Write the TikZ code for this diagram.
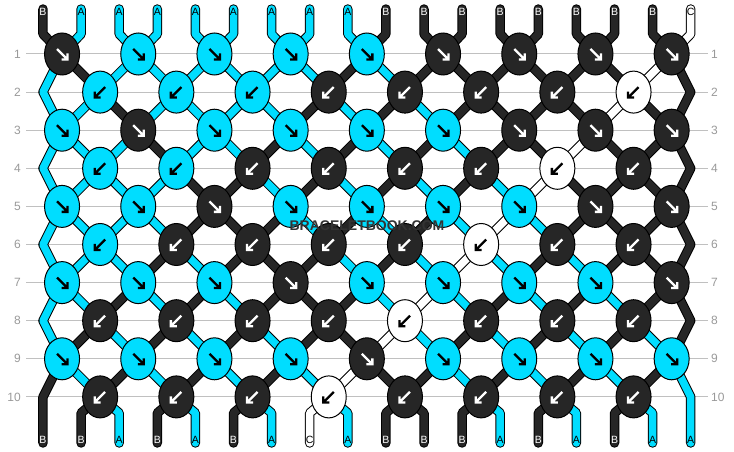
\documentclass[tikz,border=0pt]{standalone}
\usepackage{fontspec}
\setmainfont{Liberation Sans}
\usetikzlibrary{shapes.geometric}
\definecolor{colA}{HTML}{00DDFF}
\definecolor{colB}{HTML}{262626}
\definecolor{colC}{HTML}{FFFFFF}
\colorlet{arrA}{black}
\colorlet{arrB}{white}
\colorlet{arrC}{black}
\definecolor{rowgray}{HTML}{C0C0C0}
\definecolor{labelgray}{HTML}{999999}
\definecolor{wmgray}{HTML}{333333}
\pgfdeclarelayer{grid}
\pgfdeclarelayer{strands}
\pgfsetlayers{grid,strands,main}
\tikzset{
  knot/.style={ellipse, draw=black, line width=1pt, minimum width=35pt, minimum height=42pt, inner sep=0pt},
  strand/.style={draw=black, line width=1pt, double distance=7.5pt, line cap=round, line join=round},
  knotarrow/.style={line width=2.3pt, line cap=butt, line join=miter},
  rowline/.style={draw=rowgray, line width=1pt},
  rowlabel/.style={text=labelgray, font=\fontsize{12}{14}\selectfont, inner sep=0pt},
  endlabel/.style={font=\fontsize{10.5}{12}\selectfont, inner sep=0pt},
  watermark/.style={font=\bfseries\fontsize{14}{16}\selectfont, inner sep=0pt},
  pics/fwd/.style={code={\draw[knotarrow] (-5pt,5pt) -- (5.5pt,-5.5pt) (5.5pt,0.5pt) -- (5.5pt,-5.5pt) -- (-0.5pt,-5.5pt);}},
  pics/bwd/.style={code={\draw[knotarrow] (5pt,5pt) -- (-5.5pt,-5.5pt) (-5.5pt,0.5pt) -- (-5.5pt,-5.5pt) -- (0.5pt,-5.5pt);}},
}
\begin{document}
\begin{tikzpicture}[x=38.1pt, y=-38.1pt]
    \useasboundingbox (-1.1286,-1.4173) rectangle (18.1365,10.4462);

    % row numbers and guide lines
    \begin{pgfonlayer}{grid}
    \foreach \row in {1,...,10} {
        \node[rowlabel, anchor=east] (ll\row) at (-0.577,\row-1) {\row};
        \node[rowlabel, anchor=west] (rl\row) at (17.533,\row-1) {\row};
        \draw[rowline] ([xshift=5pt]ll\row.east) -- ([xshift=-3pt]rl\row.west);
    }
    \end{pgfonlayer}

    % string ends
    \foreach \lb [count=\sn] in {B,A,A,A,A,A,A,A,A,B,B,B,B,B,B,B,B,C}
        \node[endlabel, text=arr\lb] (top\sn) at (\sn-1,-1.102) {\lb};
    \foreach \lb [count=\sn] in {B,B,A,B,A,B,A,C,A,B,B,B,A,B,A,B,A,A}
        \node[endlabel, text=arr\lb] (bot\sn) at (\sn-1,10.131) {\lb};

    % knots
    \foreach \row/\cols in {1/{B,A,A,A,A,B,B,B,B}, 2/{A,A,A,B,B,B,B,C},
                            3/{A,B,A,A,A,A,B,B,B}, 4/{A,A,B,B,B,B,C,B},
                            5/{A,A,B,A,A,A,A,B,B}, 6/{A,B,B,B,B,C,B,B},
                            7/{A,A,A,B,A,A,A,A,B}, 8/{B,B,B,B,C,B,B,B},
                            9/{A,A,A,A,B,A,A,A,A}, 10/{B,B,B,C,B,B,B,B}} {
        \foreach \col [count=\kk] in \cols {
            \pgfmathsetmacro\kx{isodd(\row) ? 2*\kk-1.5 : 2*\kk-0.5}
            \node[knot, fill=col\col] (k\row-\kk) at (\kx,\row-1) {};
            \ifodd\row\relax
                \pic[color=arr\col] at (k\row-\kk) {fwd};
            \else
                \pic[color=arr\col] at (k\row-\kk) {bwd};
            \fi
        }
    }
    \foreach \row in {2,4,...,10} {
        \coordinate (k\row-0) at (0,\row-1);
        \coordinate (k\row-9) at (17,\row-1);
    }

    % strings
    \begin{pgfonlayer}{strands}
    \foreach \lb [count=\sn] in {B,A,A,A,A,A,A,A,A,B,B,B,B,B,B,B,B,C} {
        \pgfmathtruncatemacro\dr{isodd(\sn) ? 1 : -1}
        \xdef\route{([yshift=3pt]top\sn.center) -- ([yshift=-22pt]top\sn.center)}
        \foreach \row in {1,...,11} {
            \pgfmathtruncatemacro\wr{mod(\sn+(\dr)*(\row-1)+35,36)}
            \pgfmathtruncatemacro\ps{\wr<18 ? \wr+1 : 36-\wr}
            \ifnum\row<11
                \pgfmathtruncatemacro\kn{isodd(\row) ? ceil(\ps/2) : floor(\ps/2)}
                \xdef\route{\route -- (k\row-\kn.center)}
            \else
                \xdef\route{\route -- ([yshift=27pt]bot\ps.center) -- ([yshift=-3pt]bot\ps.center)}
            \fi
        }
        \draw[strand, double=col\lb] \route;
    }
    \end{pgfonlayer}

    % watermark
    \node[watermark, text=wmgray] (wm) at (8.504,4.514) {BRACELETBOOK.COM};
\end{tikzpicture}
\end{document}
